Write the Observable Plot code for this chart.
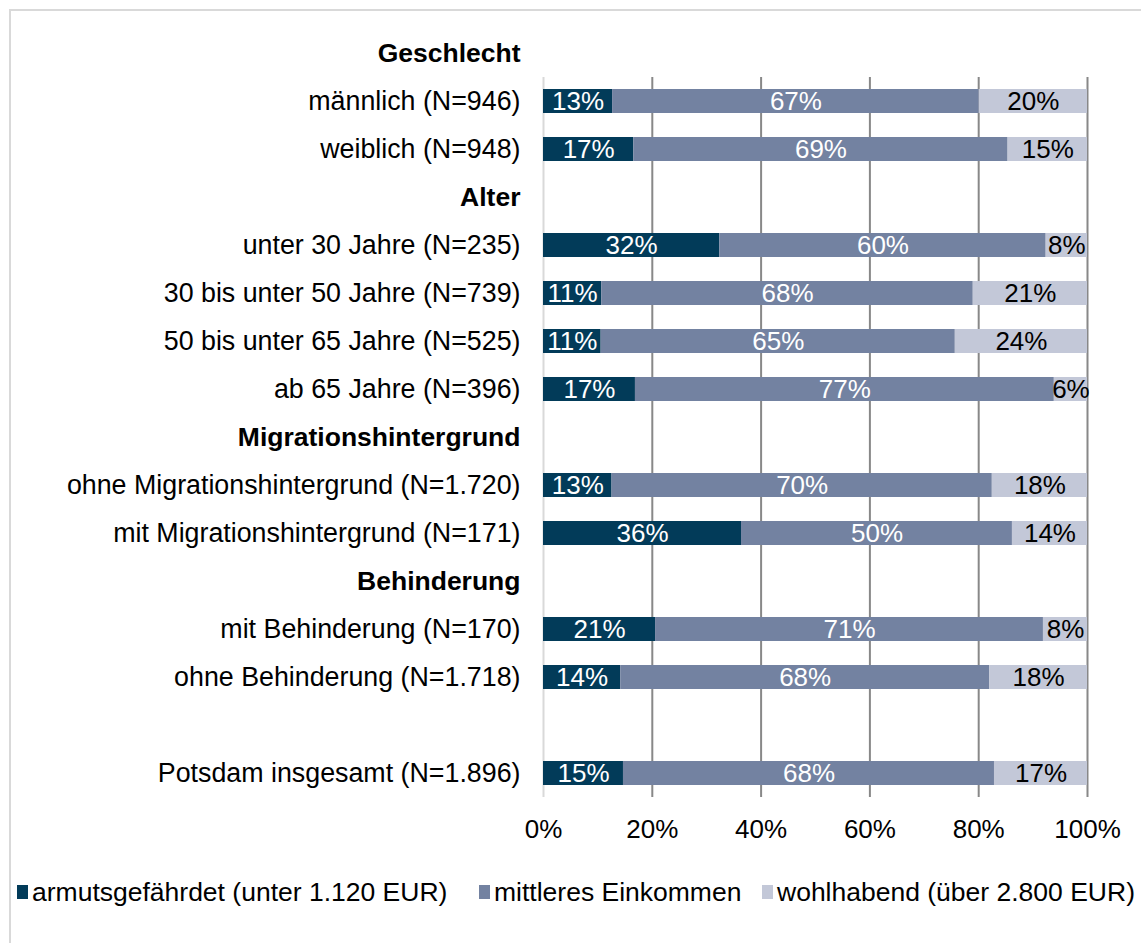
<!DOCTYPE html>
<html><head><meta charset="utf-8">
<script src="https://cdn.jsdelivr.net/npm/d3@7"></script>
<script src="https://cdn.jsdelivr.net/npm/@observablehq/plot@0.6"></script>
<style>
body{margin:0;background:#fff;font-family:"Liberation Sans",Arial,sans-serif;overflow:hidden;}
#frame{position:absolute;left:9px;top:9px;width:1300px;height:1100px;border-top:2px solid #d9d9d9;border-left:2px solid #d9d9d9;}
#chart{position:absolute;left:0;top:0;}
#legend{position:absolute;left:0;top:874px;width:1141px;height:36px;font-size:26.5px;color:#000;white-space:nowrap;}
.item{position:absolute;top:0;height:36px;display:flex;align-items:center;}
.sw{display:inline-block;width:11px;height:14px;margin-right:4px;}
</style></head>
<body>
<div id="frame"></div>
<div id="chart"></div>
<div id="legend"></div>
<script>
const rowLabels = ["Geschlecht","männlich (N=946)","weiblich (N=948)","Alter","unter 30 Jahre (N=235)","30 bis unter 50 Jahre (N=739)","50 bis unter 65 Jahre (N=525)","ab 65 Jahre (N=396)","Migrationshintergrund","ohne Migrationshintergrund (N=1.720)","mit Migrationshintergrund (N=171)","Behinderung","mit Behinderung (N=170)","ohne Behinderung (N=1.718)"," ","Potsdam insgesamt (N=1.896)"];
const headerRows = ["Geschlecht","Alter","Migrationshintergrund","Behinderung"];
const barRows = ["männlich (N=946)","weiblich (N=948)","unter 30 Jahre (N=235)","30 bis unter 50 Jahre (N=739)","50 bis unter 65 Jahre (N=525)","ab 65 Jahre (N=396)","ohne Migrationshintergrund (N=1.720)","mit Migrationshintergrund (N=171)","mit Behinderung (N=170)","ohne Behinderung (N=1.718)","Potsdam insgesamt (N=1.896)"];
const seriesNames = ["armutsgefährdet (unter 1.120 EUR)","mittleres Einkommen","wohlhabend (über 2.800 EUR)"];
const armut  = [12.7,16.6,32.4,10.7,10.6,16.9,12.6,36.4,20.6,14.2,14.7];
const mittel = [67.4,68.8,60.0,68.3,65.1,77.0,69.9,49.8,71.3,67.8,68.2];
const wohl   = [19.9,14.6,7.6,21.0,24.3,6.1,17.5,13.8,8.1,18.0,17.1];
const xTicks = [0,20,40,60,80,100];
const colors = ["#023b59","#7382a1","#c3c8d8"];
const legendLeft = [17, 479, 762];

const seriesValues = [armut, mittel, wohl];
const data = [];
barRows.forEach((r, i) => seriesValues.forEach((vals, s) => data.push({row: r, series: seriesNames[s], value: vals[i]})));

const firstRow = rowLabels[1], lastRow = rowLabels[rowLabels.length - 1];

const chart = Plot.plot({
  width: 1141, height: 860,
  marginLeft: 543, marginRight: 54, marginTop: 28, marginBottom: 63,
  style: {fontFamily: "'Liberation Sans', Arial, sans-serif", fontSize: "26px", color: "#000", background: "transparent"},
  x: {domain: [0, 100], axis: null},
  y: {domain: rowLabels, padding: 0, axis: null},
  color: {domain: seriesNames, range: colors},
  marks: [
    Plot.ruleX(xTicks.slice(1), {x: d => d, y1: () => firstRow, y2: () => lastRow, stroke: "#888888", strokeWidth: 2}),
    Plot.ruleX([0], {x: d => d, y1: () => firstRow, y2: () => lastRow, stroke: "#d9d9d9", strokeWidth: 2}),
    Plot.barX(data, Plot.stackX({x: "value", y: "row", fill: "series", insetTop: 12, insetBottom: 12})),
    Plot.textX(data, Plot.stackX({x: "value", y: "row", z: "series", text: d => Math.round(d.value) + "%", fill: d => d.series === seriesNames[2] ? "#000" : "#fff", fontSize: 26})),
    Plot.text(rowLabels.filter(d => !headerRows.includes(d)), {frameAnchor: "left", y: d => d, text: d => d, textAnchor: "end", dx: -23, fill: "#000", fontSize: 26.8}),
    Plot.text(headerRows, {frameAnchor: "left", y: d => d, text: d => d, textAnchor: "end", dx: -23, fill: "#000", fontSize: 26.5, fontWeight: "bold"}),
    Plot.axisX(xTicks, {tickSize: 0, tickPadding: 22, tickFormat: d => d + "%", fontSize: 26, label: null, fill: "#000"})
  ]
});
document.getElementById("chart").appendChild(chart);

const legend = document.getElementById("legend");
seriesNames.forEach((name, i) => {
  const item = document.createElement("div");
  item.className = "item";
  item.style.left = legendLeft[i] + "px";
  const sw = document.createElement("span");
  sw.className = "sw";
  sw.style.background = colors[i];
  const t = document.createElement("span");
  t.textContent = name;
  item.appendChild(sw); item.appendChild(t);
  legend.appendChild(item);
});
</script>
</body></html>
